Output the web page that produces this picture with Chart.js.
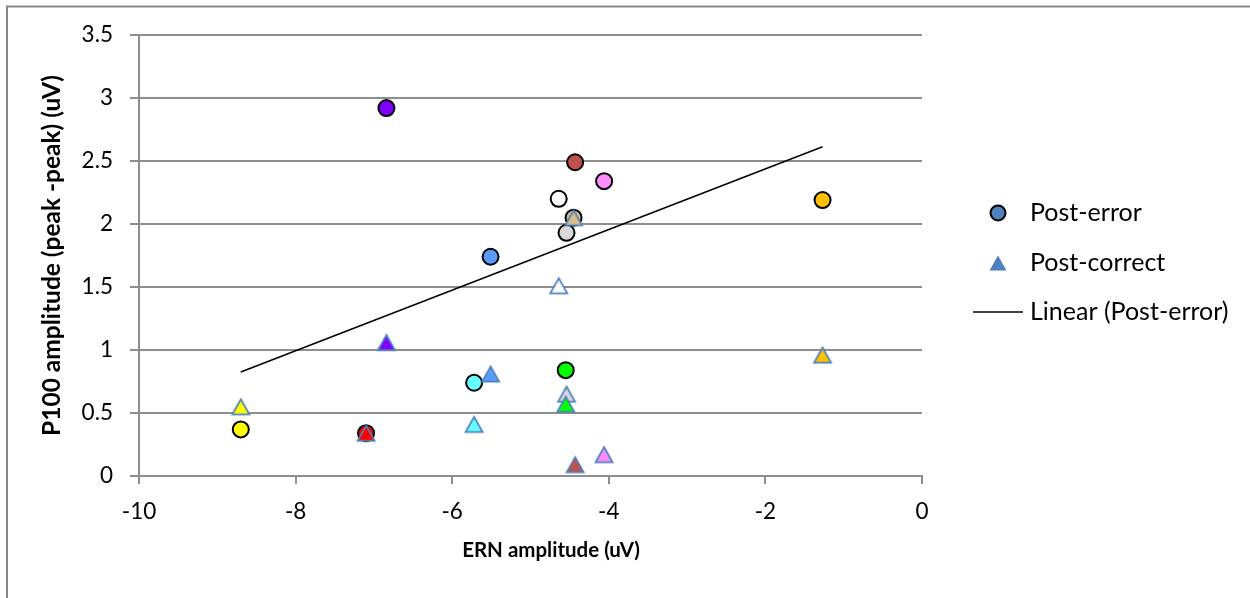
<!DOCTYPE html>
<html lang="en">
<head>
    <meta charset="UTF-8">
    <title>P100 vs ERN amplitude</title>
    <script src="https://cdn.jsdelivr.net/npm/chart.js@4.4.8/dist/chart.umd.min.js"></script>
    <style>
        body { margin: 0; background: #fff; }
    </style>
</head>
<body>
    <canvas id="ernChart" width="1250" height="598"></canvas>
    <script>
        // one entry per participant
        const subjectColors = ['#7f00ff', '#c0504d', '#ff8cff', '#ffffff', '#d9bc8c', '#d9d9d9',
                               '#5b9bff', '#66ffff', '#00ff00', '#ff0000', '#ffff00', '#ffc000'];
        const ernAmplitude = [-6.84, -4.43, -4.06, -4.64, -4.45, -4.54, -5.51, -5.72, -4.55, -7.10, -8.70, -1.27];
        const postError    = [2.92, 2.49, 2.34, 2.20, 2.05, 1.93, 1.74, 0.74, 0.84, 0.34, 0.37, 2.19];
        const postCorrect  = [1.06, 0.09, 0.17, 1.51, 2.05, 0.65, 0.81, 0.41, 0.57, 0.34, 0.55, 0.96];

        const xTicks = [-10, -8, -6, -4, -2, 0];
        const xTickLabels = ['-10', '-8', '-6', '-4', '-2', '0'];
        const yTicks = [0, 0.5, 1, 1.5, 2, 2.5, 3, 3.5];
        const yTickLabels = ['0', '0.5', '1', '1.5', '2', '2.5', '3', '3.5'];
        const legendLabels = ['Post-error', 'Post-correct', 'Linear (Post-error)'];
        const xTitle = 'ERN amplitude (uV)';
        const yTitle = 'P100 amplitude (peak -peak) (uV)';

        const FONT = 'Lato';
        const GRID = '#8e8e8e';
        const MARKER_BLUE = '#4f81bd';

        function points(ys) {
            return ernAmplitude.map((x, i) => ({ x: x, y: ys[i] }));
        }

        // least squares fit for the post-error trend line
        function linearFit(xs, ys) {
            const n = xs.length;
            const mx = xs.reduce((a, b) => a + b, 0) / n;
            const my = ys.reduce((a, b) => a + b, 0) / n;
            let sxy = 0, sxx = 0;
            for (let i = 0; i < n; i++) {
                sxy += (xs[i] - mx) * (ys[i] - my);
                sxx += (xs[i] - mx) * (xs[i] - mx);
            }
            const slope = sxy / sxx;
            const x0 = Math.min(...xs), x1 = Math.max(...xs);
            return [
                { x: x0, y: my + slope * (x0 - mx) },
                { x: x1, y: my + slope * (x1 - mx) }
            ];
        }

        // triangle marker whose bounding box is centred on the point
        function triangleMarker(fill, stroke) {
            const c = document.createElement('canvas');
            c.width = 22;
            c.height = 22;
            const g = c.getContext('2d');
            const w = 17, h = 15, cx = 11, cy = 11;
            g.beginPath();
            g.moveTo(cx, cy - h / 2);
            g.lineTo(cx + w / 2, cy + h / 2);
            g.lineTo(cx - w / 2, cy + h / 2);
            g.closePath();
            g.fillStyle = fill;
            g.fill();
            if (stroke) {
                g.lineWidth = 1.75;
                g.lineJoin = 'miter';
                g.strokeStyle = stroke;
                g.stroke();
            }
            return c;
        }

        const frame = {
            id: 'frame',
            beforeDraw(chart) {
                const ctx = chart.ctx;
                ctx.save();
                ctx.fillStyle = '#fff';
                ctx.fillRect(0, 0, chart.width, chart.height);
                ctx.strokeStyle = '#868686';
                ctx.lineWidth = 2;
                ctx.strokeRect(7, 6.5, chart.width + 20, chart.height + 20);
                ctx.restore();
            }
        };

        // x title sits a little right of the plot centre
        const bottomTitle = {
            id: 'bottomTitle',
            afterDraw(chart) {
                const ctx = chart.ctx;
                ctx.save();
                ctx.fillStyle = '#000';
                ctx.font = 'bold 20.5px ' + FONT;
                ctx.textAlign = 'center';
                ctx.textBaseline = 'middle';
                ctx.fillText(xTitle, 551, 550);
                ctx.restore();
            }
        };

        // legend on the right: marker / line swatch + label
        const sideLegend = {
            id: 'sideLegend',
            afterDraw(chart) {
                const ctx = chart.ctx;
                const x = 998, rows = [213, 263, 312];
                ctx.save();

                ctx.beginPath();
                ctx.arc(x, rows[0], 7.5, 0, Math.PI * 2);
                ctx.fillStyle = MARKER_BLUE;
                ctx.fill();
                ctx.lineWidth = 2;
                ctx.strokeStyle = '#000';
                ctx.stroke();

                const tri = triangleMarker(MARKER_BLUE, null);
                ctx.drawImage(tri, x - tri.width / 2, rows[1] - tri.height / 2);

                ctx.beginPath();
                ctx.moveTo(973, rows[2]);
                ctx.lineTo(1023, rows[2]);
                ctx.strokeStyle = '#000';
                ctx.lineWidth = 1.5;
                ctx.stroke();

                ctx.fillStyle = '#000';
                ctx.font = '25px ' + FONT;
                ctx.textBaseline = 'middle';
                ctx.textAlign = 'left';
                legendLabels.forEach((t, i) => ctx.fillText(t, 1030, rows[i]));
                ctx.restore();
            }
        };

        new Chart(document.getElementById('ernChart'), {
            type: 'scatter',
            data: {
                datasets: [{
                    label: legendLabels[0],
                    data: points(postError),
                    pointStyle: 'circle',
                    pointRadius: 8,
                    pointBackgroundColor: subjectColors,
                    pointBorderColor: '#000',
                    pointBorderWidth: 2,
                    order: 2
                }, {
                    label: legendLabels[1],
                    data: points(postCorrect),
                    pointStyle: subjectColors.map(c => triangleMarker(c, MARKER_BLUE)),
                    pointRadius: 9,
                    order: 1
                }, {
                    label: legendLabels[2],
                    type: 'line',
                    data: linearFit(ernAmplitude, postError),
                    borderColor: '#000',
                    borderWidth: 1.5,
                    pointRadius: 0,
                    fill: false,
                    order: 3
                }]
            },
            options: {
                responsive: false,
                animation: false,
                events: [],
                layout: { padding: { left: 0, top: 35, right: 328, bottom: 0 } },
                plugins: {
                    legend: { display: false },
                    tooltip: { enabled: false }
                },
                scales: {
                    x: {
                        type: 'linear',
                        min: -10,
                        max: 0,
                        afterBuildTicks(scale) { scale.ticks = xTicks.map(v => ({ value: v })); },
                        afterFit(scale) {
                            scale.height = 122;
                            scale.paddingLeft = 0;
                            scale.paddingRight = 0;
                        },
                        grid: { drawOnChartArea: false, drawTicks: true, tickLength: 8, color: GRID, lineWidth: 2 },
                        border: { color: GRID, width: 2 },
                        ticks: {
                            color: '#000',
                            font: { family: FONT, size: 22.5 },
                            padding: 14,
                            callback: (v, i) => xTickLabels[i]
                        }
                    },
                    y: {
                        min: 0,
                        max: 3.5,
                        afterBuildTicks(scale) { scale.ticks = yTicks.map(v => ({ value: v })); },
                        afterFit(scale) {
                            scale.width = 139;
                            scale.paddingTop = 0;
                            scale.paddingBottom = 0;
                        },
                        grid: { drawTicks: true, tickLength: 9, color: GRID, lineWidth: 2 },
                        border: { color: GRID, width: 2 },
                        ticks: {
                            color: '#000',
                            font: { family: FONT, size: 22.5 },
                            padding: 17,
                            callback: (v, i) => yTickLabels[i]
                        },
                        title: {
                            display: true,
                            text: yTitle,
                            color: '#000',
                            font: { family: FONT, size: 24.5, weight: 'bold' },
                            padding: { top: 37, bottom: 0 }
                        }
                    }
                }
            },
            plugins: [frame, bottomTitle, sideLegend]
        });
    </script>
</body>
</html>
